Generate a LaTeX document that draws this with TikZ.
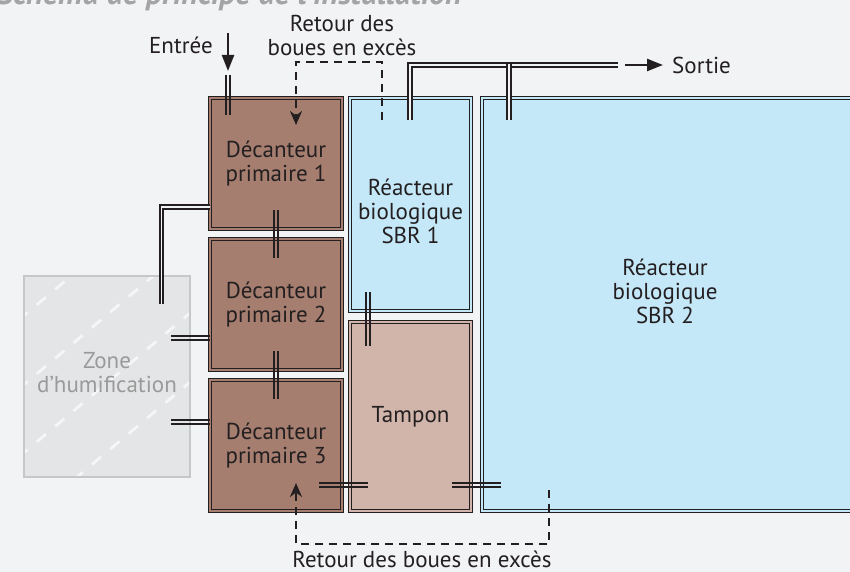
\documentclass[tikz,border=0pt]{standalone}
\usepackage{fontspec}
\setmainfont{PT Sans}
\usetikzlibrary{arrows.meta,positioning,calc}
\definecolor{paper}{HTML}{F2F3F5}
\definecolor{ink}{HTML}{231F20}
\definecolor{sludge}{HTML}{A67E70}
\definecolor{water}{HTML}{C5E8F8}
\definecolor{buffer}{HTML}{D1B5AB}
\definecolor{zonefill}{HTML}{E4E5E7}
\definecolor{zoneline}{HTML}{C6C7C9}
\definecolor{zonedash}{HTML}{F6F6F7}
\definecolor{zonetext}{HTML}{9A9A9A}
\definecolor{titlegray}{HTML}{A4A4A4}
\newcommand\lblsize{\fontsize{23}{24}\selectfont}

\begin{document}
\begin{tikzpicture}[x=1pt,y=-1pt,every node/.style={font=\lblsize,text=ink},
    box/.style={draw=ink,line width=1.1pt,double distance=2.2pt,outer sep=0pt,
                inner sep=0pt,align=center},
    decanteur/.style={box,fill=sludge,double=sludge,minimum width=132pt,minimum height=131pt},
    reacteur/.style={box,fill=water,double=water},
    bassin/.style={box,fill=buffer,double=buffer},
    zonebox/.style={draw=zoneline,line width=2pt,fill=zonefill,outer sep=0pt,
                    minimum width=166pt,minimum height=201pt},
    humdash/.style={draw=zonedash,line width=2.8pt,dash pattern=on 12pt off 12pt},
    pipe/.style={draw=ink,line width=1.8pt,double=paper,double distance=1.8pt},
    vpipe/.style={preaction={draw=ink,line width=1.8pt,transform canvas={xshift=1.8pt}},
                  preaction={draw=ink,line width=1.8pt,transform canvas={xshift=-1.8pt}}},
    hpipe/.style={preaction={draw=ink,line width=1.8pt,transform canvas={yshift=1.8pt}},
                  preaction={draw=ink,line width=1.8pt,transform canvas={yshift=-1.8pt}}},
    flow/.style={draw=ink,line width=2.4pt,-{Triangle[length=16pt,width=12pt]}},
    retour/.style={draw=ink,line width=2.6pt,dash pattern=on 8pt off 6pt,
                   -{Stealth[length=14pt,width=12pt]}}]
  \useasboundingbox (0,0) rectangle (850,572);
  \clip (0,0) rectangle (850,572);
  \fill[paper] (0,0) rectangle (850,572);

  \node[anchor=base east,inner sep=0pt,text=titlegray,
        font=\fontsize{32}{34}\selectfont\bfseries\itshape] (titre) at (462,5)
        {Schéma de principe de l’installation};

  % zone d'humification
  \node[zonebox,path picture={
      \foreach \c in {308,377,445,514}
        \draw[humdash] ($(path picture bounding box.north west)+(-24,\c-248.3)$)
                    -- ($(path picture bounding box.north west)+(196,\c-433.1)$);
    },label={[align=center,text=zonetext,yshift=4pt]center:Zone\\d’humification}]
    (zone) at (107,376.5) {};

  % bassins
  \node[decanteur] (d1) at (276,163.5) {Décanteur\\primaire 1};
  \node[decanteur,below=10pt of d1] (d2) {Décanteur\\primaire 2};
  \node[decanteur,below=10pt of d2] (d3) {Décanteur\\primaire 3};
  \node[reacteur,minimum width=121pt,minimum height=213pt,
        label={[align=center,yshift=-7pt]center:Réacteur\\biologique\\SBR 1},
        right=8pt of d1.north east,anchor=north west] (sbr1) {};
  \node[bassin,minimum width=121pt,minimum height=189pt,below=11pt of sbr1] (tampon) {Tampon};
  \node[reacteur,minimum width=376pt,minimum height=413pt,
        label={[align=center,xshift=-5pt,yshift=13.5pt]center:Réacteur\\biologique\\SBR 2},
        right=11pt of sbr1.north east,anchor=north west] (sbr2) {};

  % textes
  \node[anchor=east,inner sep=0pt] (entree) at (213,45) {Entrée};
  \node[anchor=west,inner sep=0pt] (sortie) at (672,65) {Sortie};
  \node[align=center,inner sep=0pt] (retourhaut) at (342,35) {Retour des\\boues en excès};
  \node[inner sep=0pt] (retourbas) at (422,559) {Retour des boues en excès};

  % conduites
  \draw[flow] ($(d1.north west)+(18,-65)$) -- ($(d1.north west)+(18,-27)$);
  \path[vpipe] ($(d1.north west)+(18,-23)$) -- ($(d1.north west)+(18,17)$);
  \path[vpipe] ($(d1.south)+(0,-19)$) -- ($(d2.north)+(0,19)$);
  \path[vpipe] ($(d2.south)+(0,-19)$) -- ($(d3.north)+(0,19)$);
  \path[vpipe] ($(sbr1.south west)+(18,-19)$) -- ($(tampon.north west)+(18,24)$);
  \path[hpipe] ($(d2.west)+(0,33.5)$) -- ($(zone.north east)+(-19,62)$);
  \path[hpipe] ($(d3.west)+(0,-23.5)$) -- ($(zone.north east)+(-19,146)$);
  \path[hpipe] ($(d3.south east)+(-23,-26)$) -- ($(tampon.south west)+(18,-26)$);
  \path[hpipe] ($(tampon.south east)+(-19,-26)$) -- ($(sbr2.south west)+(19,-26)$);
  \draw[pipe] ($(d1.north west)+(0,109)$) -| ($(zone.north east)+(-28.5,28)$);
  \draw[pipe] ($(sbr1.north west)+(60,22)$) |- ($(sortie.west)+(-54,0)$);
  \coordinate (branche) at ($(sbr2.north west)+(27,22)$);
  \draw[pipe] (branche) -- ($(branche |- sortie.west)+(0,-0.9)$);
  \draw[flow] ($(sortie.west)+(-47,0)$) -- ($(sortie.west)+(-9,0)$);

  % retours des boues
  \draw[retour] ($(sbr1.north west)+(32,22)$) -- ++(0,-58) -| ($(d1.north west)+(86,27)$);
  \draw[retour] ($(sbr2.south west)+(67,-21)$) -- ++(0,54) -| ($(d3.south west)+(86,-28)$);
\end{tikzpicture}
\end{document}
